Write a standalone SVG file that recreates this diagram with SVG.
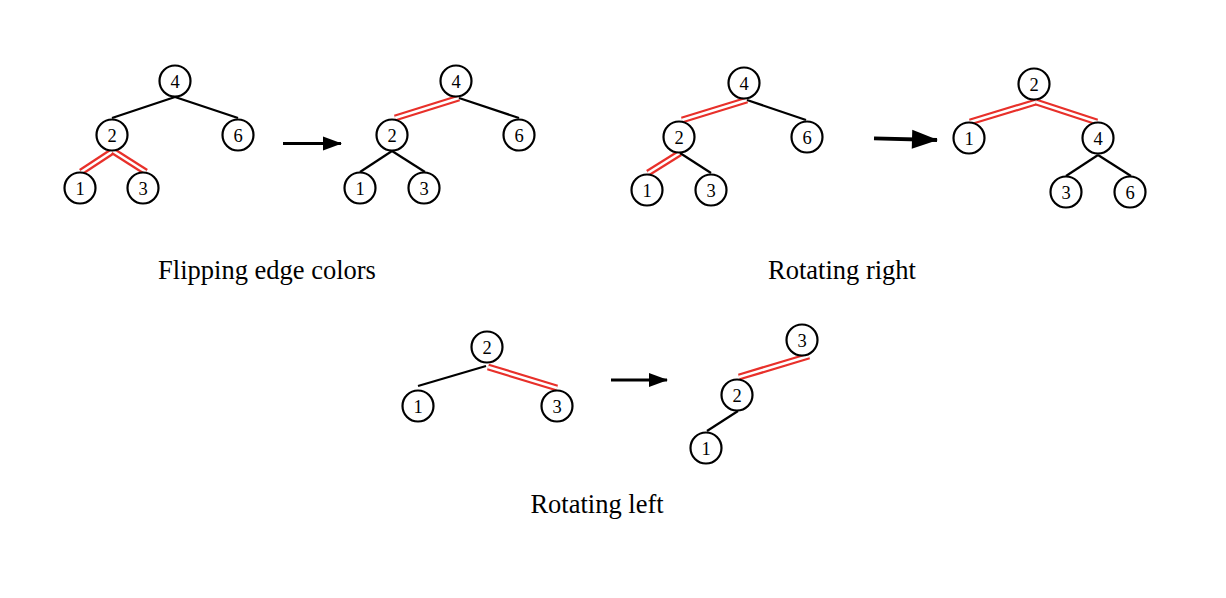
<svg xmlns="http://www.w3.org/2000/svg" width="1226" height="598" viewBox="0 0 1226 598">
<style>
.n circle{fill:#fff;stroke:#000;stroke-width:2.2}
.n text{font-family:"Liberation Serif","DejaVu Serif",serif;font-size:18.5px;text-anchor:middle;fill:#000}
.e{stroke:#000;stroke-width:2.2;fill:none}
.r{stroke:#e8302a;stroke-width:7;fill:none}
.rw{stroke:#fff;stroke-width:2.6;fill:none}
.a{stroke:#000;stroke-width:2.8;fill:none}
.lbl{font-family:"Liberation Serif","Times New Roman",serif;font-size:26.5px;text-anchor:middle;fill:#000}
</style>
<defs>
<marker id="ah" markerUnits="userSpaceOnUse" viewBox="0 0 19 14" markerWidth="19" markerHeight="14" refX="18" refY="7" orient="auto" overflow="visible"><path d="M0,0 L19,7 L0,14 Z" fill="#000"/></marker>
<marker id="ahb" markerUnits="userSpaceOnUse" viewBox="0 0 26 19" markerWidth="26" markerHeight="19" refX="25" refY="9.5" orient="auto" overflow="visible"><path d="M0,0 L26,9.5 L0,19 Z" fill="#000"/></marker>
</defs>
<rect width="1226" height="598" fill="#fff"/>
<g id="connectors">
<line class="e" x1="175" y1="97" x2="112" y2="118"/>
<line class="e" x1="175" y1="97" x2="238" y2="118"/>
<line class="r" x1="113" y1="151" x2="81" y2="172"/><line class="rw" x1="113" y1="151" x2="81" y2="172"/>
<line class="r" x1="113" y1="151" x2="146" y2="172"/><line class="rw" x1="113" y1="151" x2="146" y2="172"/>
<line class="a" x1="283" y1="143.5" x2="341" y2="143.5" marker-end="url(#ah)"/>
<line class="r" x1="459" y1="98" x2="395" y2="118"/><line class="rw" x1="459" y1="98" x2="395" y2="118"/>
<line class="e" x1="459" y1="98" x2="519" y2="118"/>
<line class="e" x1="392" y1="151" x2="360" y2="172"/>
<line class="e" x1="392" y1="151" x2="425" y2="172"/>
<line class="r" x1="747" y1="100" x2="682" y2="120"/><line class="rw" x1="747" y1="100" x2="682" y2="120"/>
<line class="e" x1="747" y1="100" x2="806" y2="120"/>
<line class="r" x1="680" y1="153" x2="648" y2="173"/><line class="rw" x1="680" y1="153" x2="648" y2="173"/>
<line class="e" x1="680" y1="153" x2="711" y2="173"/>
<line x1="874" y1="138.3" x2="937" y2="140" stroke="#000" stroke-width="3.8" marker-end="url(#ahb)"/>
<line class="r" x1="1036" y1="102" x2="970" y2="122"/><line class="rw" x1="1036" y1="102" x2="970" y2="122"/>
<line class="r" x1="1036" y1="102" x2="1097" y2="122"/><line class="rw" x1="1036" y1="102" x2="1097" y2="122"/>
<line class="e" x1="1098" y1="155" x2="1066" y2="176"/>
<line class="e" x1="1098" y1="155" x2="1131" y2="176"/>
<line class="e" x1="486" y1="366" x2="418" y2="386"/>
<line class="r" x1="488" y1="367" x2="557" y2="388"/><line class="rw" x1="488" y1="367" x2="557" y2="388"/>
<line class="a" x1="611" y1="380" x2="667" y2="380" marker-end="url(#ah)"/>
<line class="r" x1="809" y1="356" x2="739" y2="377"/><line class="rw" x1="809" y1="356" x2="739" y2="377"/>
<line class="e" x1="738" y1="411" x2="707" y2="431"/>
</g>
<g id="p1-n4" class="n"><circle cx="175" cy="81" r="15.5"/><text x="175" y="87.5">4</text></g>
<g id="p1-n2" class="n"><circle cx="112" cy="135" r="15.5"/><text x="112" y="141.5">2</text></g>
<g id="p1-n6" class="n"><circle cx="238" cy="135" r="15.5"/><text x="238" y="141.5">6</text></g>
<g id="p1-n1" class="n"><circle cx="80" cy="188" r="15.5"/><text x="80" y="194.5">1</text></g>
<g id="p1-n3" class="n"><circle cx="143" cy="188" r="15.5"/><text x="143" y="194.5">3</text></g>
<g id="p2-n4" class="n"><circle cx="456" cy="81" r="15.5"/><text x="456" y="87.5">4</text></g>
<g id="p2-n2" class="n"><circle cx="392" cy="135" r="15.5"/><text x="392" y="141.5">2</text></g>
<g id="p2-n6" class="n"><circle cx="519" cy="135" r="15.5"/><text x="519" y="141.5">6</text></g>
<g id="p2-n1" class="n"><circle cx="360" cy="188" r="15.5"/><text x="360" y="194.5">1</text></g>
<g id="p2-n3" class="n"><circle cx="424" cy="188" r="15.5"/><text x="424" y="194.5">3</text></g>
<g id="p3-n4" class="n"><circle cx="744" cy="83" r="15.5"/><text x="744" y="89.5">4</text></g>
<g id="p3-n2" class="n"><circle cx="679" cy="137" r="15.5"/><text x="679" y="143.5">2</text></g>
<g id="p3-n6" class="n"><circle cx="807" cy="137" r="15.5"/><text x="807" y="143.5">6</text></g>
<g id="p3-n1" class="n"><circle cx="647" cy="190" r="15.5"/><text x="647" y="196.5">1</text></g>
<g id="p3-n3" class="n"><circle cx="711" cy="190" r="15.5"/><text x="711" y="196.5">3</text></g>
<g id="p4-n2" class="n"><circle cx="1034" cy="84" r="15.5"/><text x="1034" y="90.5">2</text></g>
<g id="p4-n1" class="n"><circle cx="969" cy="138" r="15.5"/><text x="969" y="144.5">1</text></g>
<g id="p4-n4" class="n"><circle cx="1098" cy="138" r="15.5"/><text x="1098" y="144.5">4</text></g>
<g id="p4-n3" class="n"><circle cx="1066" cy="192" r="15.5"/><text x="1066" y="198.5">3</text></g>
<g id="p4-n6" class="n"><circle cx="1130" cy="192" r="15.5"/><text x="1130" y="198.5">6</text></g>
<g id="p5-n2" class="n"><circle cx="487" cy="347" r="15.5"/><text x="487" y="353.5">2</text></g>
<g id="p5-n1" class="n"><circle cx="418" cy="406" r="15.5"/><text x="418" y="412.5">1</text></g>
<g id="p5-n3" class="n"><circle cx="557" cy="406" r="15.5"/><text x="557" y="412.5">3</text></g>
<g id="p6-n3" class="n"><circle cx="802" cy="340" r="15.5"/><text x="802" y="346.5">3</text></g>
<g id="p6-n2" class="n"><circle cx="737" cy="395" r="15.5"/><text x="737" y="401.5">2</text></g>
<g id="p6-n1" class="n"><circle cx="706" cy="448" r="15.5"/><text x="706" y="454.5">1</text></g>
<text class="lbl" x="267" y="279">Flipping edge colors</text>
<text class="lbl" x="842" y="279">Rotating right</text>
<text class="lbl" x="597" y="513">Rotating left</text>
</svg>
